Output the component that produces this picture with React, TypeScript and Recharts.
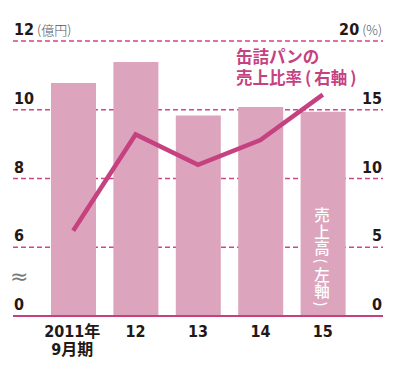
import React from 'react';
import { ComposedChart, Bar, Line, XAxis, YAxis, CartesianGrid } from 'recharts';

// 決算期（9月期）
const periods = ['2011年9月期', '12', '13', '14', '15'];
// 売上高（億円、左軸）
const sales = [10.78, 11.39, 9.83, 10.08, 9.94];
// 缶詰パンの売上比率（%、右軸）
const ratio = [6.2, 13.2, 11.0, 12.8, 16.1];
// 左軸は4億円以下を省略（目盛「0」は4の位置）
const leftTicks = [4, 6, 8, 10, 12];
const rightTicks = [0, 5, 10, 15, 20];

const data = periods.map((p, i) => ({ period: p, sales: sales[i], ratio: ratio[i] }));

const NUM_FONT = "'Liberation Sans Narrow', 'DejaVu Sans Condensed', 'Noto Sans CJK JP', sans-serif";
const JP_FONT = "'Noto Sans CJK JP', sans-serif";
const PINK = '#c6417f';
const BAR = '#dca5bd';
const INK = '#231815';

const LeftTick = (props: any) => {
  const { y, payload } = props;
  const v = payload.value;
  const label = v === 4 ? '0' : String(v);
  return (
    <text x={14} y={y - 6} fill={INK} fontFamily={NUM_FONT} fontWeight="bold" fontSize={16}>
      {label}
      {v === 12 && (
        <tspan fill="#555" fontFamily={JP_FONT} fontWeight={300} fontSize={13} dx={3}>(億円)</tspan>
      )}
    </text>
  );
};

const RightTick = (props: any) => {
  const { y, payload } = props;
  const v = payload.value;
  return (
    <text x={382} y={y - 6} textAnchor="end" fill={INK} fontFamily={NUM_FONT} fontWeight="bold" fontSize={16}>
      {v}
      {v === 20 && (
        <tspan fill="#555" fontFamily={JP_FONT} fontWeight={300} fontSize={13} dx={3}>(%)</tspan>
      )}
    </text>
  );
};

const PeriodTick = (props: any) => {
  const { x, y, payload } = props;
  const v: string = payload.value;
  if (v.startsWith('2011')) {
    return (
      <text x={x - 1} y={y + 13} textAnchor="middle" fill={INK} fontFamily={NUM_FONT} fontWeight="bold" fontSize={16}>
        <tspan x={x - 1}>2011年</tspan>
        <tspan x={x - 1} dy={18}>9月期</tspan>
      </text>
    );
  }
  return (
    <text x={x} y={y + 13} textAnchor="middle" fill={INK} fontFamily={NUM_FONT} fontWeight="bold" fontSize={16}>
      {v}
    </text>
  );
};

// 縦書きラベル（括弧は回転して表示）
const vertical = ['売', '上', '高', '(', '左', '軸', ')'];

const App: React.FC = () => {
  return (
    <div style={{ position: 'absolute', left: 0, top: 0, width: 400, height: 368, background: '#fff' }}>
      <ComposedChart width={400} height={368} data={data} margin={{ top: 41, right: 16, bottom: 12, left: 12 }}>
        <CartesianGrid yAxisId="left" vertical={false} stroke="#d2458b" strokeWidth={1.5} strokeDasharray="5 3" />
        <XAxis
          dataKey="period"
          height={40}
          padding={{ left: 29, right: 29 }}
          tickLine={false}
          axisLine={{ stroke: '#c4417f', strokeWidth: 2 }}
          tick={<PeriodTick />}
          interval={0}
        />
        <YAxis
          yAxisId="left"
          orientation="left"
          width={1}
          domain={[4, 12]}
          ticks={leftTicks}
          allowDataOverflow
          axisLine={false}
          tickLine={false}
          tick={<LeftTick />}
        />
        <YAxis
          yAxisId="right"
          orientation="right"
          width={1}
          domain={[0, 20]}
          ticks={rightTicks}
          axisLine={false}
          tickLine={false}
          tick={<RightTick />}
        />
        <Bar yAxisId="left" dataKey="sales" fill={BAR} barSize={45} isAnimationActive={false} />
        <Line
          yAxisId="right"
          dataKey="ratio"
          type="linear"
          stroke={PINK}
          strokeWidth={4.5}
          strokeLinejoin="miter"
          dot={false}
          activeDot={false}
          isAnimationActive={false}
        />
      </ComposedChart>
      <div style={{ position: 'absolute', left: 10, top: 266, fontSize: 22, color: '#777', fontFamily: 'DejaVu Sans', lineHeight: 1 }}>≈</div>
      <div
        style={{
          position: 'absolute',
          left: 236,
          top: 46,
          color: PINK,
          fontFamily: JP_FONT,
          fontWeight: 'bold',
          fontSize: 16.5,
          lineHeight: '21px',
          whiteSpace: 'nowrap',
        }}
      >
        缶詰パンの
        <br />
        売上比率<span style={{ margin: '0 3px' }}>(</span>右軸<span style={{ marginLeft: 3 }}>)</span>
      </div>
      <div
        style={{
          position: 'absolute',
          left: 313,
          top: 206,
          width: 18,
          color: '#fff',
          fontFamily: JP_FONT,
          fontWeight: 500,
          fontSize: 15.5,
          textAlign: 'center',
        }}
      >
        {vertical.map((c, i) =>
          c === '(' || c === ')' ? (
            <div key={i} style={{ height: 10, lineHeight: '10px', transform: 'rotate(90deg)', fontSize: 14 }}>
              {c}
            </div>
          ) : (
            <div key={i} style={{ height: 16.5, lineHeight: '16.5px' }}>
              {c}
            </div>
          )
        )}
      </div>
    </div>
  );
};

export default App;
